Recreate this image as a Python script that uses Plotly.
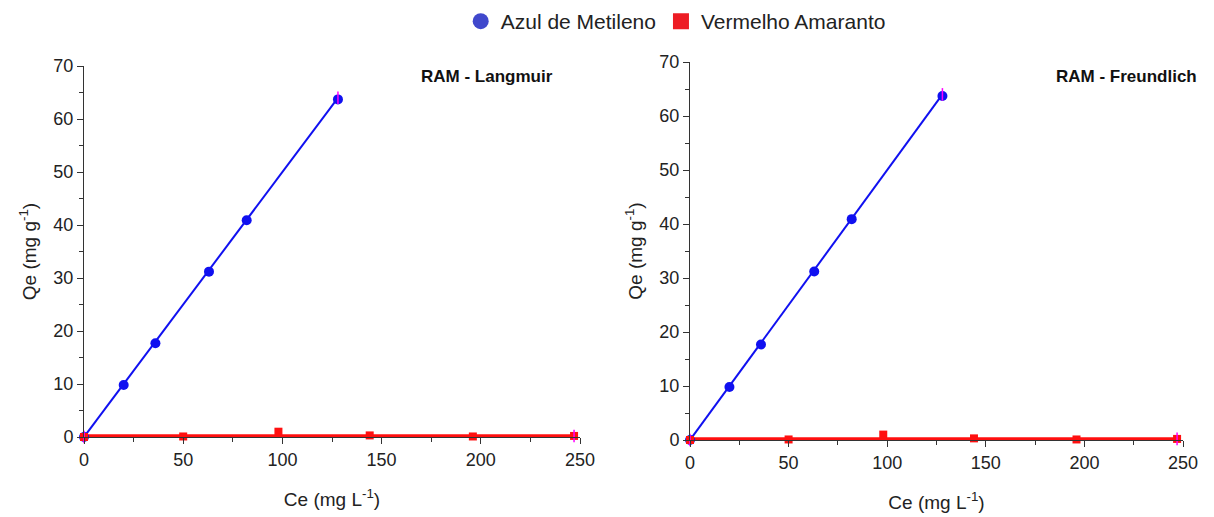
import plotly.graph_objects as go
from plotly.subplots import make_subplots

ce_am = [0, 20, 36, 63, 82, 128]
qe_am = [0, 9.8, 17.7, 31.2, 40.9, 63.7]
ce_va = [0, 50, 98, 144, 196, 247]
qe_va = [0, 0.1, 1.0, 0.3, 0.1, 0.2]

# Fitted model curves (endpoints)
fit_am_x = [0, 128]
fit_am_y = [0, 64.0]
fit_va_x = [0, 247]
fit_va_y = [0.2, 0.2]

panels = ["RAM - Langmuir", "RAM - Freundlich"]
x_ticks = [0, 50, 100, 150, 200, 250]
y_ticks = [0, 10, 20, 30, 40, 50, 60, 70]

BLUE = "#1010f0"
RED = "#ff1010"
MAG = "#ff00ff"
FONT = "Liberation Sans, Arial, sans-serif"

fig = make_subplots(rows=1, cols=2)

for c in (1, 2):
    fig.add_trace(go.Scatter(x=fit_am_x, y=fit_am_y, mode="lines",
                             line=dict(color=BLUE, width=2), showlegend=False,
                             cliponaxis=False), row=1, col=c)
    fig.add_trace(go.Scatter(x=fit_va_x, y=fit_va_y, mode="lines",
                             line=dict(color=RED, width=3.5), showlegend=False,
                             cliponaxis=False), row=1, col=c)
    fig.add_trace(go.Scatter(x=ce_am, y=qe_am, mode="markers",
                             marker=dict(color=BLUE, size=10, symbol="circle"),
                             showlegend=False, cliponaxis=False), row=1, col=c)
    fig.add_trace(go.Scatter(x=ce_va, y=qe_va, mode="markers",
                             marker=dict(color=RED, size=8, symbol="square"),
                             showlegend=False, cliponaxis=False), row=1, col=c)
    fig.add_trace(go.Scatter(x=[fit_am_x[0], fit_am_x[-1], fit_va_x[-1]],
                             y=[fit_am_y[0], fit_am_y[-1], fit_va_y[-1]],
                             mode="markers",
                             marker=dict(color=MAG, size=9, symbol="line-ns",
                                         line=dict(color=MAG, width=1.5)),
                             showlegend=False, cliponaxis=False), row=1, col=c)

# Legend entries
fig.add_trace(go.Scatter(x=[None], y=[None], mode="markers", name="Azul de Metileno",
                         marker=dict(color="#4048cc", size=16, symbol="circle")))
fig.add_trace(go.Scatter(x=[None], y=[None], mode="markers", name="Vermelho Amaranto",
                         marker=dict(color="#ed1c24", size=16, symbol="square")))

W, H = 1214, 517
OFF = 8  # page body margin offset
xdoms = [((84 - OFF) / W, (580 - OFF) / W), ((690 - OFF) / W, (1183 - OFF) / W)]
ydoms = [(1 - (437 - OFF) / H, 1 - (66 - OFF) / H), (1 - (440 - OFF) / H, 1 - (62 - OFF) / H)]

for i, c in enumerate((1, 2)):
    fig.update_xaxes(row=1, col=c, domain=list(xdoms[i]), range=[0, 250],
                     automargin=False,
                     tickvals=x_ticks, ticks="outside", ticklen=6, tickwidth=1,
                     tickcolor="#333", showline=True, linecolor="#333", linewidth=1,
                     showgrid=False, zeroline=False,
                     minor=dict(dtick=25, ticks="outside", ticklen=4, tickcolor="#333"),
                     tickfont=dict(size=18, color="#222", family=FONT),
                     title=dict(text="Ce (mg L<sup>-1</sup>)", standoff=24,
                                font=dict(size=19, color="#222", family=FONT)))
    fig.update_yaxes(row=1, col=c, domain=list(ydoms[i]), range=[0, 70],
                     automargin=False,
                     tickvals=y_ticks, ticks="outside", ticklen=6, tickwidth=1,
                     tickcolor="#333", showline=True, linecolor="#333", linewidth=1,
                     showgrid=False, zeroline=False,
                     minor=dict(dtick=5, ticks="outside", ticklen=4, tickcolor="#333"),
                     tickfont=dict(size=18, color="#222", family=FONT),
                     title=dict(text="Qe (mg g<sup>-1</sup>)", standoff=11,
                                font=dict(size=19, color="#222", family=FONT)))

fig.add_annotation(x=(555 - OFF) / W, y=1 - (77 - OFF) / H, xref="paper", yref="paper",
                   text="<b>" + panels[0] + "</b>", showarrow=False,
                   xanchor="right", yanchor="middle",
                   font=dict(size=17, color="#111", family=FONT))
fig.add_annotation(x=(1199 - OFF) / W, y=1 - (77 - OFF) / H, xref="paper", yref="paper",
                   text="<b>" + panels[1] + "</b>", showarrow=False,
                   xanchor="right", yanchor="middle",
                   font=dict(size=17, color="#111", family=FONT))

fig.update_layout(
    width=W, height=H, margin=dict(l=0, r=0, t=0, b=0, autoexpand=False),
    plot_bgcolor="white", paper_bgcolor="white",
    font=dict(family=FONT),
    legend=dict(orientation="h", x=0.550, xanchor="center", y=1 + 7 / H,
                yanchor="top",
                font=dict(size=21, color="#222", family=FONT),
                itemsizing="trace", bgcolor="rgba(0,0,0,0)"),
)

fig.write_html("out.html")
